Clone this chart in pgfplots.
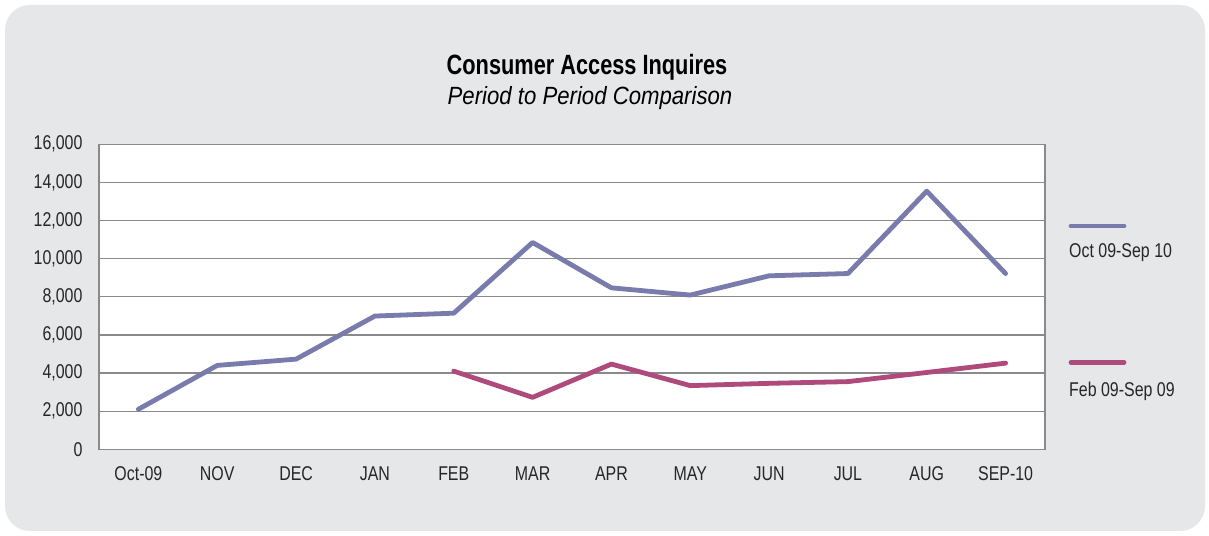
\documentclass[border=0pt]{standalone}
\usepackage{pgfplots}
\pgfplotsset{compat=1.18}
\usepackage{fontspec}
\setmainfont{Liberation Sans}[FakeStretch=0.8]
\newfontfamily\titlefont{Liberation Sans}[FakeStretch=0.78]
\newfontfamily\subfont{Liberation Sans}[FakeStretch=0.89]
\definecolor{bg}{HTML}{E6E7E9}
\definecolor{gridgray}{HTML}{8A8A8A}
\definecolor{seriesA}{HTML}{787BAB}
\definecolor{seriesB}{HTML}{AE4A7C}
\begin{document}
\begin{tikzpicture}[x=1bp,y=1bp]
\path[use as bounding box] (0,0) rectangle (1209,536);
\fill[white] (0,0) rectangle (1209,536);
\fill[bg, rounded corners=25bp] (5,5) rectangle (1205,531);
\begin{axis}[
  at={(99bp,86.7bp)}, anchor=south west,
  scale only axis, width=946bp, height=305bp,
  xmin=-0.5, xmax=11.5, ymin=0, ymax=16000,
  ytick={0,2000,...,16000},
  xtick={0,...,11},
  xticklabels={Oct-09,NOV,DEC,JAN,FEB,MAR,APR,MAY,JUN,JUL,AUG,SEP-10},
  ymajorgrids,
  grid style={draw=gridgray, line width=1.3bp},
  axis line style={draw=gridgray, line width=1.3bp},
  major tick length=0,
  tick label style={font=\fontsize{20}{23}\selectfont, text=black!85},
  /pgf/number format/1000 sep={,},
  /pgf/number format/assume math mode=true,
  scaled y ticks=false,
  axis background/.style={fill=white},
  xticklabel style={yshift=-14bp},
  yticklabel style={xshift=-13bp},
  clip=false,
]
\addplot[seriesA, line width=4.8bp, line join=round, line cap=round] coordinates {
 (0,2100) (1,4400) (2,4730) (3,6990) (4,7140) (5,10850) (6,8470) (7,8090) (8,9100) (9,9220) (10,13540) (11,9220)};
\addplot[seriesB, line width=4.8bp, line join=round, line cap=round] coordinates {
 (4,4100) (5,2725) (6,4470) (7,3340) (8,3460) (9,3550) (10,4030) (11,4520)};
\end{axis}
\node[anchor=base, font=\titlefont\bfseries\fontsize{28}{32}\selectfont] at (587,461) {Consumer Access Inquires};
\node[anchor=base, font=\subfont\itshape\fontsize{25}{30}\selectfont] at (590,431) {Period to Period Comparison};
\draw[seriesA, line width=4.8bp, line cap=round] (1071,310) -- (1124,310);
\node[anchor=base west, inner sep=0pt, font=\fontsize{20}{23}\selectfont, text=black!85] at (1069,278) {Oct 09-Sep 10};
\draw[seriesB, line width=4.8bp, line cap=round] (1071,173.5) -- (1124,173.5);
\node[anchor=base west, inner sep=0pt, font=\fontsize{20}{23}\selectfont, text=black!85] at (1069,139.5) {Feb 09-Sep 09};
\end{tikzpicture}
\end{document}
